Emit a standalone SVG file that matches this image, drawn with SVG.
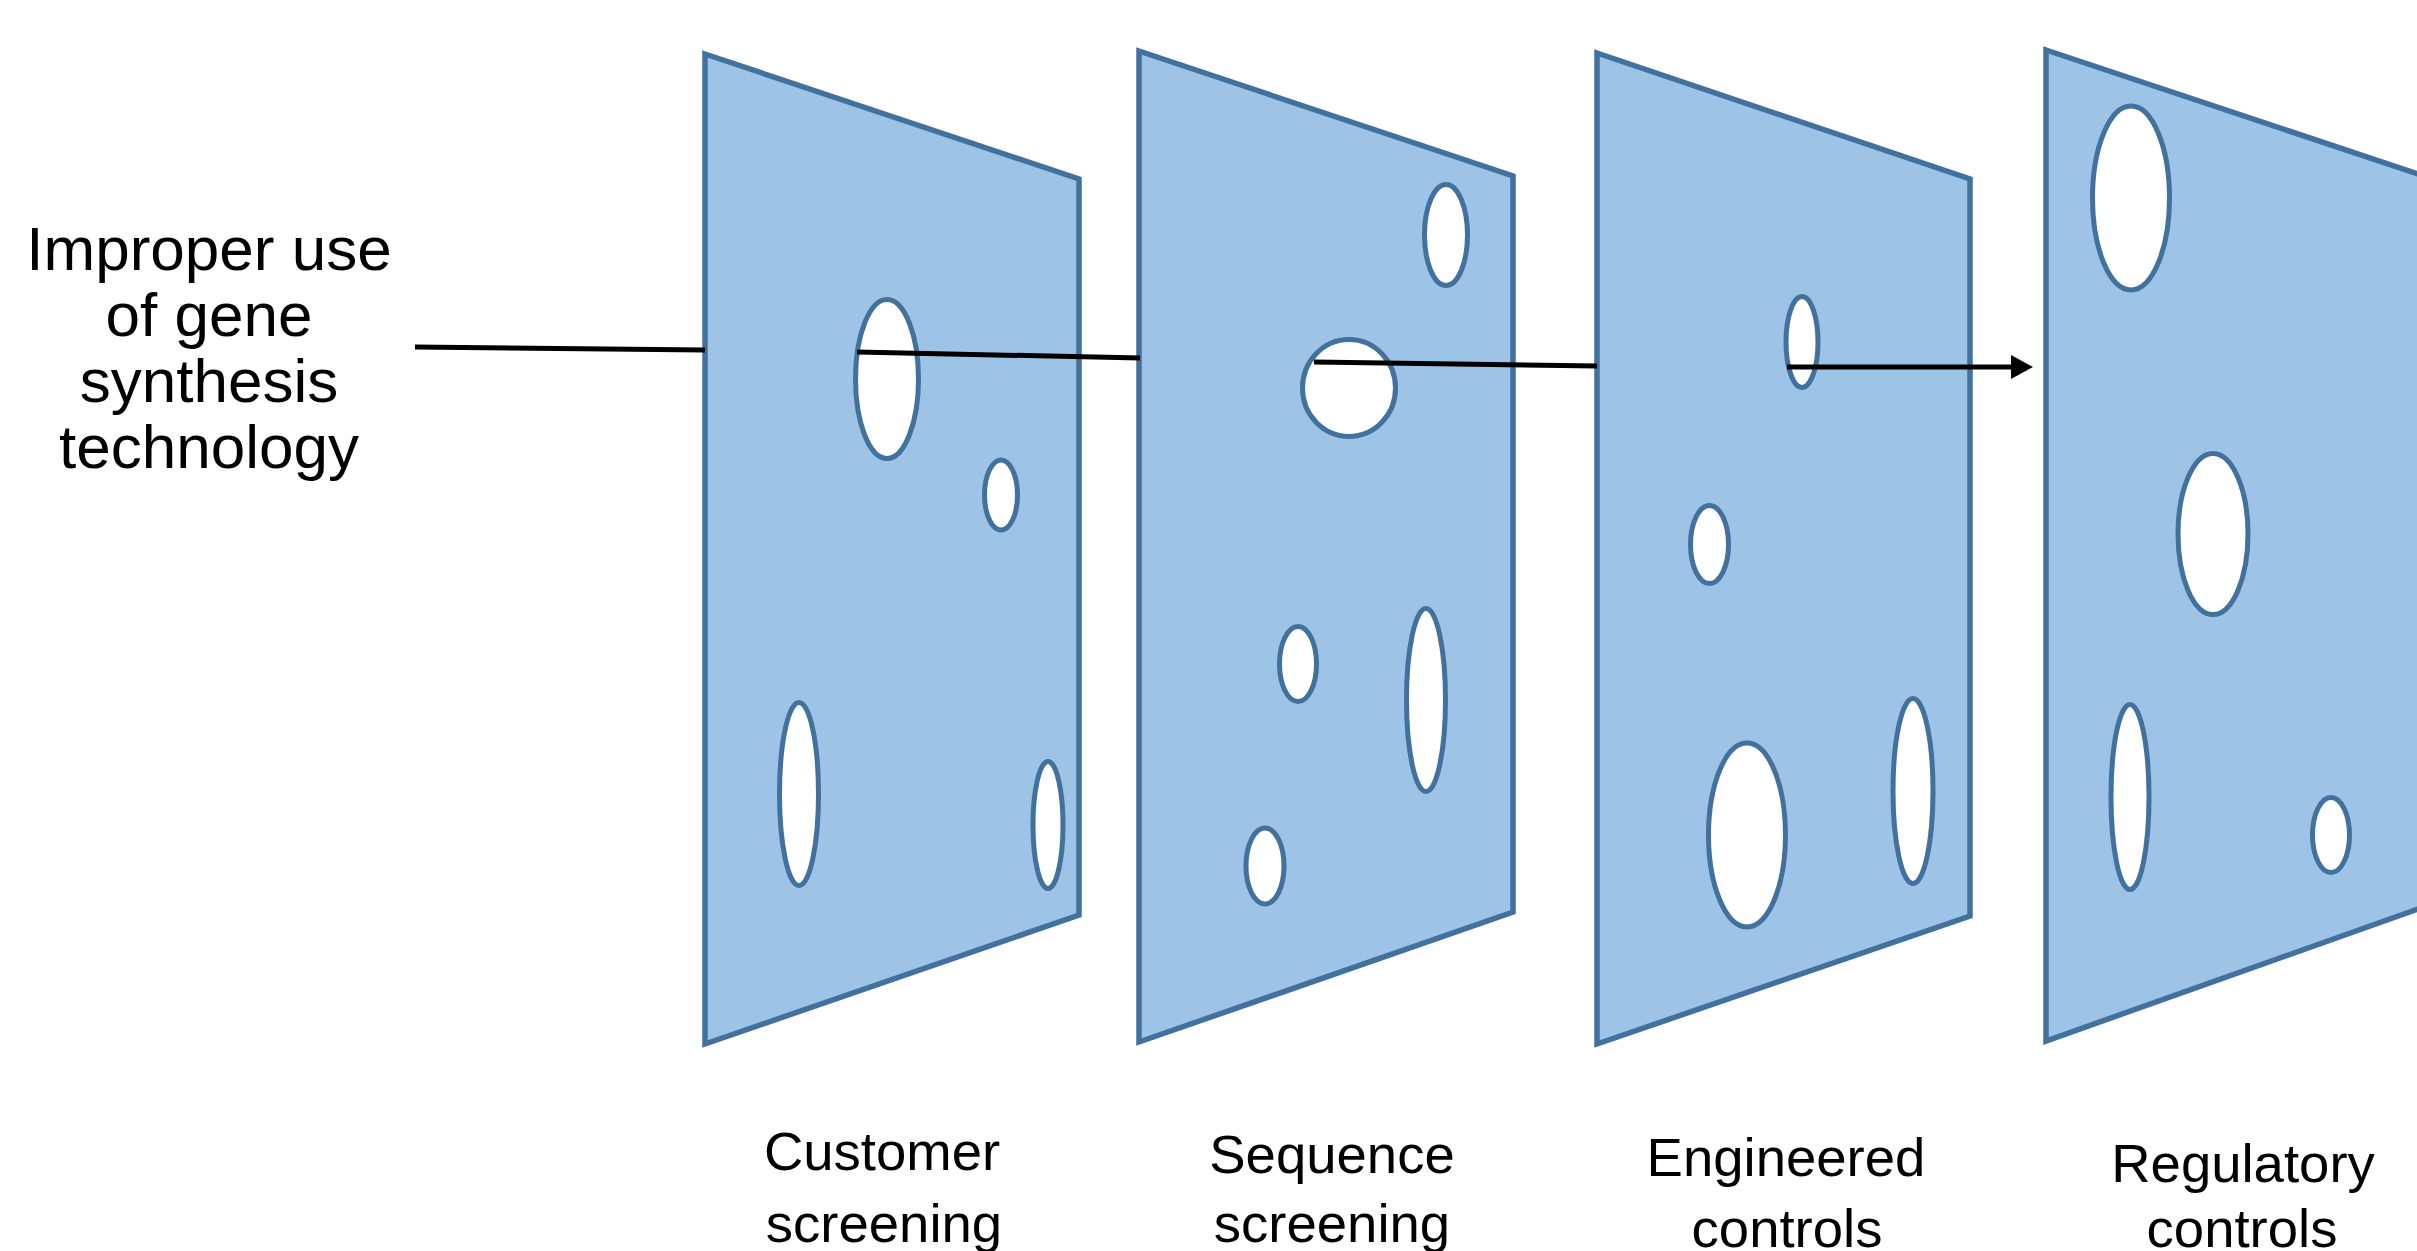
<svg xmlns="http://www.w3.org/2000/svg" width="2417" height="1251" viewBox="0 0 2417 1251">
<style>
.panel{fill:#9DC3E6;stroke:#41719C;stroke-width:5.5;stroke-linejoin:miter}
.hole{fill:#FFFFFF;stroke:#41719C;stroke-width:5}
.lbl{font-family:"Liberation Sans",Arial,sans-serif;fill:#000;text-anchor:middle}
.conn{stroke:#000;stroke-width:5;fill:none}
</style>
<rect width="2417" height="1251" fill="#FFFFFF"/>
<g id="source">
<text class="lbl" font-size="62" x="209" y="270">Improper use</text>
<text class="lbl" font-size="62" x="209" y="336">of gene</text>
<text class="lbl" font-size="62" x="209" y="402">synthesis</text>
<text class="lbl" font-size="62" x="209" y="468">technology</text>
</g>
<g id="layer-customer-screening">
<polygon class="panel" points="705,54 1079,179 1079,915 705,1044"/>
<ellipse class="hole" cx="887" cy="379" rx="31.5" ry="79.5"/>
<ellipse class="hole" cx="1001" cy="495" rx="16.5" ry="35"/>
<ellipse class="hole" cx="799" cy="794" rx="19.5" ry="91.5"/>
<ellipse class="hole" cx="1048" cy="825" rx="15" ry="63.5"/>
<text class="lbl" font-size="54.5" x="882" y="1170">Customer</text>
<text class="lbl" font-size="54.5" x="884" y="1242">screening</text>
</g>
<g id="layer-sequence-screening">
<polygon class="panel" points="1139,51 1513,176 1513,912 1139,1042"/>
<ellipse class="hole" cx="1446" cy="235" rx="21.5" ry="50.5"/>
<ellipse class="hole" cx="1349" cy="388" rx="46.5" ry="48.5"/>
<ellipse class="hole" cx="1298" cy="664" rx="18.5" ry="37.5"/>
<ellipse class="hole" cx="1426" cy="700" rx="19.5" ry="91.5"/>
<ellipse class="hole" cx="1265" cy="866" rx="19" ry="38"/>
<text class="lbl" font-size="54.5" x="1332" y="1173">Sequence</text>
<text class="lbl" font-size="54.5" x="1332" y="1242">screening</text>
</g>
<g id="layer-engineered-controls">
<polygon class="panel" points="1597,53 1970,179 1970,916 1597,1044"/>
<ellipse class="hole" cx="1802" cy="342" rx="16" ry="45.5"/>
<ellipse class="hole" cx="1709.5" cy="544.5" rx="19" ry="39"/>
<ellipse class="hole" cx="1747" cy="835" rx="38.5" ry="92"/>
<ellipse class="hole" cx="1913" cy="791" rx="20" ry="92.5"/>
<text class="lbl" font-size="54.5" x="1786" y="1176">Engineered</text>
<text class="lbl" font-size="54.5" x="1787" y="1247">controls</text>
</g>
<g id="layer-regulatory-controls">
<polygon class="panel" points="2046,50 2421,175 2421,908 2046,1041"/>
<ellipse class="hole" cx="2131" cy="198" rx="38.5" ry="92"/>
<ellipse class="hole" cx="2213" cy="534" rx="35" ry="80.5"/>
<ellipse class="hole" cx="2130" cy="797" rx="19" ry="92.5"/>
<ellipse class="hole" cx="2331" cy="835" rx="18.5" ry="37.5"/>
<text class="lbl" font-size="54.5" x="2243" y="1182">Regulatory</text>
<text class="lbl" font-size="54.5" x="2242" y="1247">controls</text>
</g>
<g id="connectors">
<line class="conn" x1="415" y1="347" x2="705" y2="350"/>
<line class="conn" x1="857" y1="352" x2="1140" y2="358"/>
<line class="conn" x1="1314" y1="362" x2="1597" y2="366"/>
<line class="conn" x1="1787" y1="367" x2="2013" y2="367"/>
<polygon points="2011,355 2033,367 2011,379" fill="#000"/>
</g>
</svg>
